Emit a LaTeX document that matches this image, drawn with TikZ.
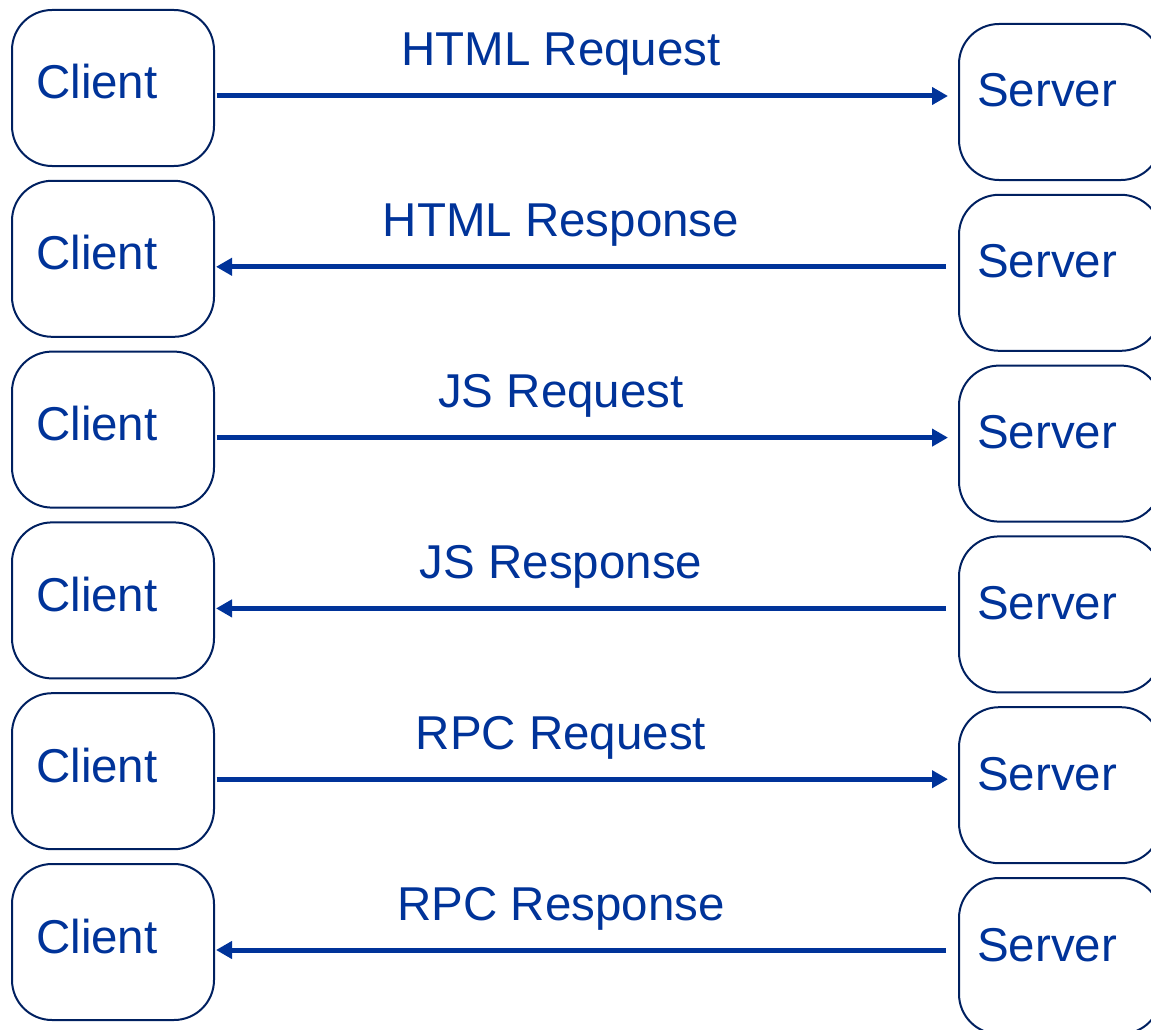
\documentclass[tikz,border=0pt]{standalone}
\usepackage{fontspec}
\setmainfont{Liberation Sans}
\usetikzlibrary{arrows.meta}
\definecolor{boxline}{RGB}{0,32,96}
\definecolor{msgblue}{RGB}{0,51,153}
\begin{document}
\begin{tikzpicture}[x=1pt,y=-1pt,
  hostbox/.style={draw=boxline, line width=2pt, rounded corners=40pt,
    minimum width=202pt, minimum height=156pt, inner sep=0pt},
  hosttext/.style={anchor=base west, text=msgblue,
    font=\fontsize{47.5}{52}\selectfont, inner sep=0pt},
  msgtext/.style={anchor=base, text=msgblue,
    font=\fontsize{47.5}{52}\selectfont, inner sep=0pt},
  msg/.style={draw=msgblue, line width=5pt,
    -{Triangle[length=16pt,width=17pt]}}]
\useasboundingbox (0,0) rectangle (1151,1030);
\clip (0,0) rectangle (1151,1030);
% one row per message: 0 = client to server, 1 = server to client
\foreach \i/\lbl/\dir in {0/HTML Request/0, 1/HTML Response/1,
                          2/JS Request/0, 3/JS Response/1,
                          4/RPC Request/0, 5/RPC Response/1} {
  \pgfmathsetmacro\dy{170.8*\i}
  \node[hostbox] (c\i) at (113,{88+\dy}) {};
  \node[hostbox] (s\i) at (1060,{102+\dy}) {};
  \node[hosttext] (ct\i) at (36,{99+\dy}) {Client};
  \node[hosttext] (st\i) at (977,{107+\dy}) {Server};
  \coordinate (y\i) at (0,{96+\dy});
  \node[msgtext] (m\i) at (561,{66+\dy}) {\lbl};
  \ifnum\dir=0
    \draw[msg, shorten <=1.5pt, shorten >=10pt] (c\i.east |- y\i) -- (s\i.west |- y\i);
  \else
    \draw[msg, shorten <=12pt, shorten >=1pt] (s\i.west |- y\i) -- (c\i.east |- y\i);
  \fi
}
\end{tikzpicture}
\end{document}
